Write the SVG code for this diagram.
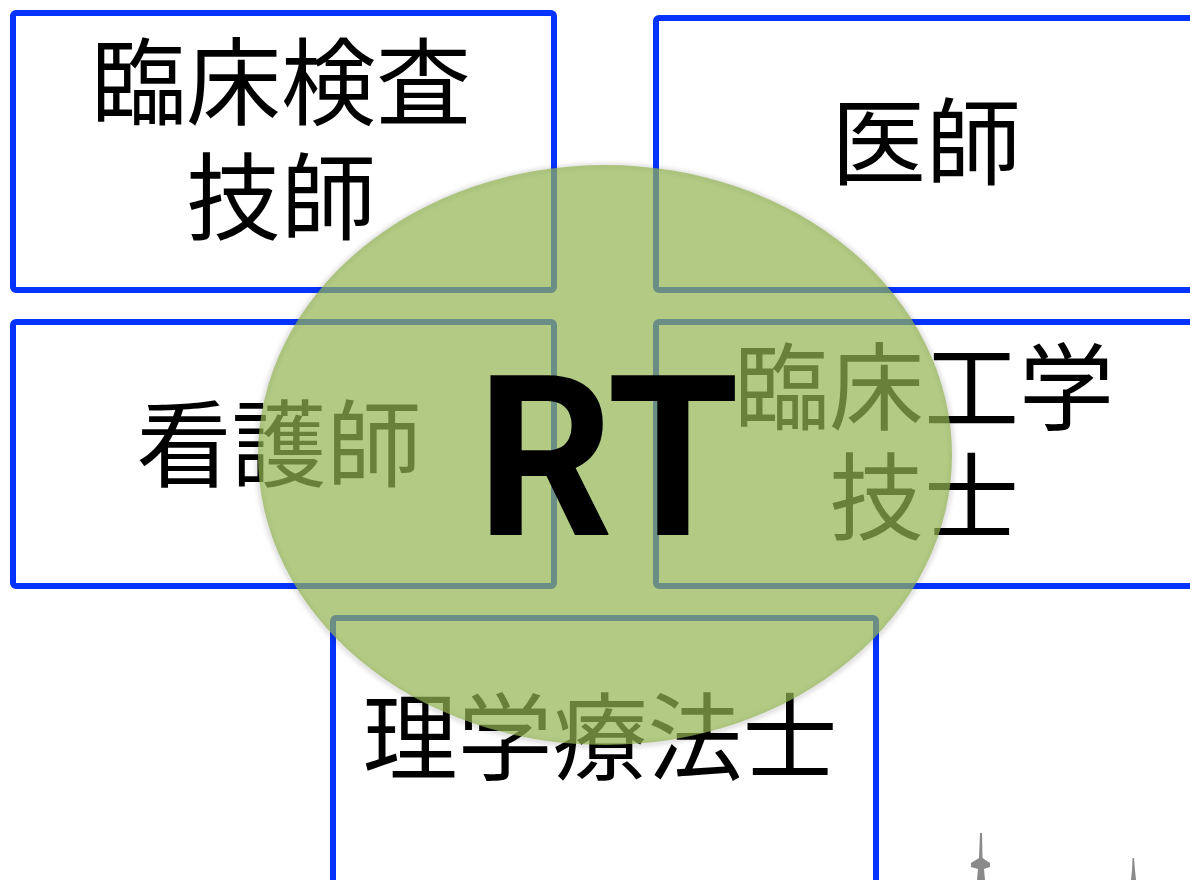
<svg xmlns="http://www.w3.org/2000/svg" width="1190" height="880" viewBox="0 0 1190 880">
<style>
.box{fill:#ffffff;stroke:#0433ff;stroke-width:6}
.lbl{font-family:"Noto Sans CJK JP","Noto Sans CJK SC",sans-serif;font-size:95px;fill:#000;text-anchor:middle}
.rt{font-family:Roboto,"Liberation Sans",Arial,sans-serif;font-weight:bold;font-size:225px;fill:#000;text-anchor:middle}
.tower{fill:#8a8a8a}
</style>
<defs>
<filter id="sh" x="-10%" y="-10%" width="120%" height="120%">
<feGaussianBlur stdDeviation="2.5"/>
</filter>
</defs>
<rect width="1190" height="880" fill="#fff"/>
<g id="n1"><rect class="box" x="13" y="13" width="541" height="277" rx="3"/>
<text class="lbl" x="281" y="118">臨床検査</text><text class="lbl" x="281" y="233">技師</text></g>
<g id="n2"><rect class="box" x="656" y="18" width="545" height="272" rx="3"/>
<text class="lbl" x="926" y="178">医師</text></g>
<g id="n3"><rect class="box" x="13" y="322" width="541" height="264" rx="3"/>
<text class="lbl" x="279" y="480">看護師</text></g>
<g id="n4"><rect class="box" x="656" y="322" width="545" height="264" rx="3"/>
<text class="lbl" x="924" y="423">臨床工学</text><text class="lbl" x="924" y="533">技士</text></g>
<g id="n5"><rect class="box" x="333" y="618" width="543" height="280" rx="3"/>
<text class="lbl" x="600" y="773">理学療法士</text></g>
<g id="towers">
<path class="tower" d="M980 833 L982 833 L982.5 858 L990 863 L990 867 L984 869 L985 880 L977 880 L978 869 L971 867 L971 863 L979 858 Z"/>
<path class="tower" d="M1132.5 858 L1134 858 L1135 870 L1136 880 L1131 880 L1132 870 Z"/>
</g>
<g id="rt">
<ellipse cx="605" cy="456" rx="347" ry="290" fill="none" stroke="#000" stroke-opacity="0.18" stroke-width="4" filter="url(#sh)"/>
<ellipse cx="605" cy="455" rx="347" ry="290" fill="#94b553" fill-opacity="0.71"/>
<text class="rt" x="608" y="535" textLength="262" lengthAdjust="spacingAndGlyphs">RT</text>
</g>
</svg>
